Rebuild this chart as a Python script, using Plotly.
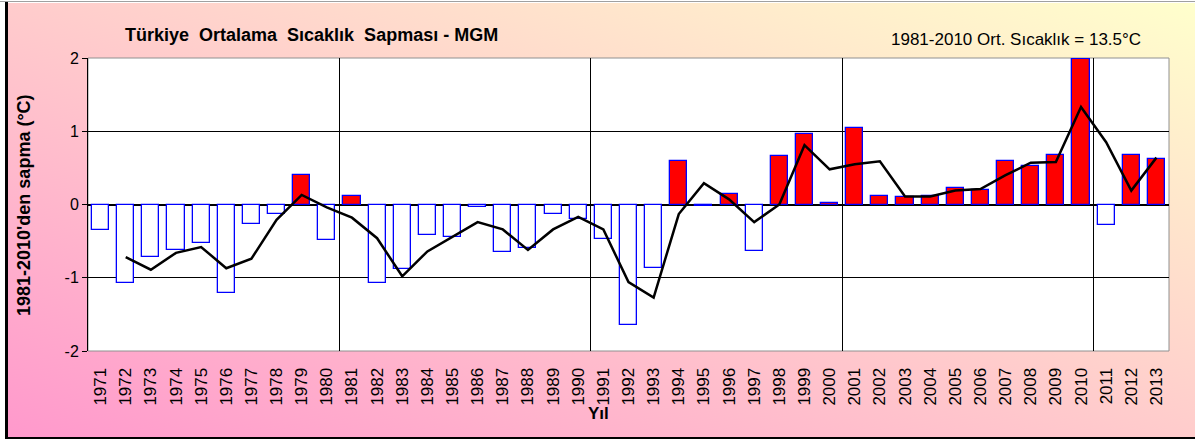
import base64
import plotly.graph_objects as go

years = list(range(1971, 2014))
anomaly = [-0.35, -1.07, -0.72, -0.62, -0.53, -1.21, -0.27, -0.13, 0.40, -0.49,
           0.11, -1.07, -0.88, -0.41, -0.44, -0.04, -0.65, -0.60, -0.13, -0.20,
           -0.47, -1.65, -0.86, 0.59, -0.02, 0.15, -0.63, 0.66, 0.96, 0.02,
           1.05, 0.12, 0.10, 0.12, 0.22, 0.20, 0.60, 0.53, 0.67, 1.98,
           -0.28, 0.67, 0.62]
smooth_years = list(range(1972, 2014))
smooth = [-0.72, -0.89, -0.66, -0.58, -0.87, -0.74, -0.21, 0.13, -0.04,
          -0.18, -0.46, -0.98, -0.64, -0.44, -0.24, -0.34, -0.62, -0.34, -0.17,
          -0.34, -1.06, -1.27, -0.13, 0.29, 0.07, -0.24, 0.00, 0.81, 0.48,
          0.55, 0.59, 0.11, 0.11, 0.19, 0.21, 0.40, 0.57, 0.58, 1.33,
          0.85, 0.19, 0.64]
year_labels = [str(y) for y in years]
y_tickvals = [-2, -1, 0, 1, 2]
y_ticktext = ["-2", "-1", "0", "1", "2"]

W, H = 1195, 442
ML, MR, MT, MB = 88, 26, 58, 91
PW, PH = W - ML - MR, H - MT - MB

def px_x(px):
    return (px - ML) / PW

def px_y(py):
    return (H - MB - py) / PH

svg = f"""<svg xmlns='http://www.w3.org/2000/svg' width='{W}' height='{H}' viewBox='0 0 {W} {H}' preserveAspectRatio='none'>
<defs><linearGradient id='g' x1='0' y1='1' x2='1' y2='0'>
<stop offset='0' stop-color='#FF99CC'/><stop offset='1' stop-color='#FFFFCC'/></linearGradient></defs>
<rect x='0' y='0' width='{W}' height='{H}' fill='#FFFFFF'/>
<rect x='8' y='3' width='{W-8}' height='434' fill='url(#g)'/>
<rect x='0' y='1' width='{W}' height='1' fill='#A0A0A0'/>
<rect x='5' y='2' width='3' height='437' fill='#000000'/>
<rect x='5' y='437' width='{W-5}' height='2' fill='#000000'/>
</svg>"""
src = "data:image/svg+xml;base64," + base64.b64encode(svg.encode()).decode()

bar_colors = ["#FF0000" if v > 0 else "#FFFFFF" for v in anomaly]

fig = go.Figure()
fig.add_trace(go.Bar(x=years, y=anomaly, width=0.68,
                     marker=dict(color=bar_colors, line=dict(color="#0000FF", width=1.3)),
                     showlegend=False, hoverinfo="x+y"))
fig.add_trace(go.Scatter(x=smooth_years, y=smooth, mode="lines",
                         line=dict(color="#000000", width=2.5),
                         showlegend=False))

fig.update_layout(
    width=W, height=H,
    margin=dict(l=ML, r=MR, t=MT, b=MB, pad=0),
    paper_bgcolor="#FFFFFF",
    plot_bgcolor="rgba(0,0,0,0)",
    font=dict(family="Liberation Sans, Arial, sans-serif", color="#000000"),
    title=dict(text="<b>Türkiye  Ortalama  Sıcaklık  Sapması - MGM</b>",
               x=125 / W, xanchor="left", y=1 - 35 / H, yanchor="middle",
               font=dict(size=18, color="#000000")),
    images=[dict(source=src, xref="paper", yref="paper",
                 x=px_x(0), y=px_y(0), sizex=W / PW, sizey=H / PH,
                 xanchor="left", yanchor="top", sizing="stretch", layer="below")],
    shapes=[dict(type="rect", xref="x domain", yref="y domain", x0=0, x1=1, y0=0, y1=1,
                 fillcolor="#FFFFFF", line=dict(color="#909090", width=1), layer="below")],
    annotations=[
        dict(text="1981-2010 Ort. Sıcaklık = 13.5°C", xref="paper", yref="paper",
             x=px_x(1143), y=px_y(40), xanchor="right", yanchor="middle",
             showarrow=False, font=dict(size=17, color="#000000")),
        dict(text="<b>Yıl</b>", xref="paper", yref="paper",
             x=px_x(598), y=px_y(413), xanchor="center", yanchor="middle",
             showarrow=False, font=dict(size=17, color="#000000")),
        dict(text="<b>1981-2010'den sapma (°C)</b>", xref="paper", yref="paper",
             x=px_x(24), y=px_y(205), xanchor="center", yanchor="middle", textangle=-90,
             showarrow=False, font=dict(size=18, color="#000000")),
    ],
    bargap=0,
)
fig.update_xaxes(range=[1970.5, 2013.5], tickmode="array", tickvals=years, ticktext=year_labels,
                 tickangle=-90, tickfont=dict(size=17), showgrid=False, zeroline=False,
                 ticks="outside", ticklen=9, tickcolor="rgba(0,0,0,0)",
                 showline=False,
                 minor=dict(tick0=1970.5, dtick=10, showgrid=True, gridcolor="#000000",
                            gridwidth=1, ticks=""))
fig.update_yaxes(range=[-2, 2], tickmode="array", tickvals=y_tickvals, ticktext=y_ticktext,
                 tickfont=dict(size=16), showgrid=True, gridcolor="#000000", gridwidth=1,
                 zeroline=True, zerolinecolor="#000000", zerolinewidth=1.5,
                 showline=True, linecolor="#000000", linewidth=1,
                 ticks="outside", ticklen=5, tickcolor="#000000")

fig.write_html("out.html", config={"displayModeBar": False},
               post_script="document.body.style.margin='0';document.body.style.overflow='hidden';")
